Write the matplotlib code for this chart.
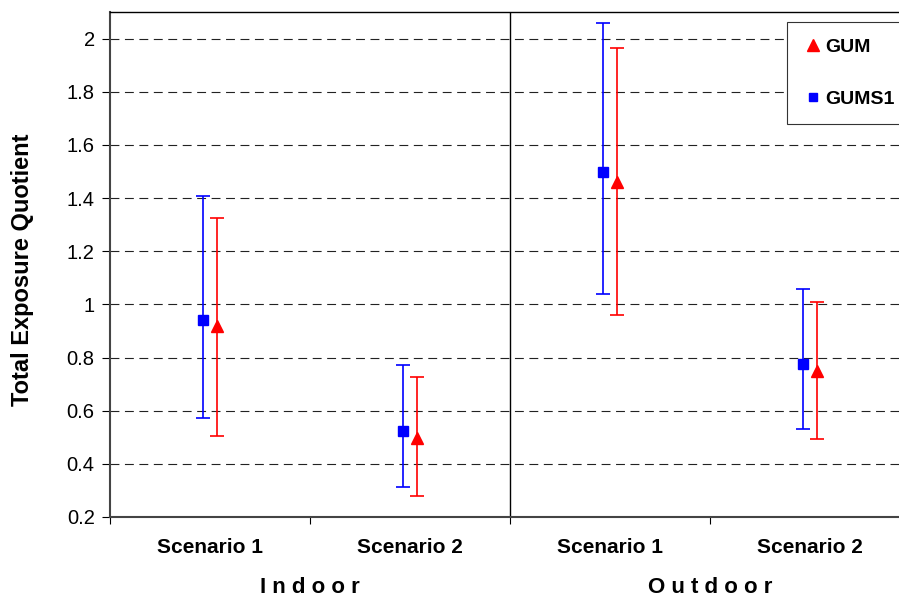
import matplotlib
matplotlib.use("Agg")
from matplotlib import pyplot as plt
from matplotlib.lines import Line2D
import numpy as np

plt.rcParams["font.family"] = ["Liberation Sans", "DejaVu Sans"]

groups = ["Indoor", "Outdoor"]
scenarios = ["Scenario 1", "Scenario 2", "Scenario 1", "Scenario 2"]

# GUMS1 (blue squares)
gums1_mid = [0.943, 0.522, 1.497, 0.774]
gums1_low = [0.574, 0.314, 1.038, 0.531]
gums1_high = [1.409, 0.771, 2.057, 1.057]

# GUM (red triangles)
gum_mid = [0.918, 0.499, 1.459, 0.748]
gum_low = [0.503, 0.279, 0.960, 0.495]
gum_high = [1.325, 0.727, 1.965, 1.009]

yticks = [0.2, 0.4, 0.6, 0.8, 1, 1.2, 1.4, 1.6, 1.8, 2]

fig = plt.figure(figsize=(8.99, 6.01), dpi=100)
W, H = 899, 601
ax = fig.add_axes([110 / W, (H - 517) / H, (W - 110) / W, (517 - 12) / H])

x = np.arange(len(scenarios)) + 0.5
off = 0.035

for v in yticks[1:]:
    ax.axhline(v, color="#222222", linestyle=(0, (8, 5)), linewidth=0.8, zorder=1)
ax.axvline(2, color="black", linewidth=1.0, zorder=1)

m = np.array(gums1_mid)
ax.errorbar(x - off, m, yerr=[m - np.array(gums1_low), np.array(gums1_high) - m],
            fmt="s", color="blue", ecolor="blue", markersize=7, capsize=5,
            elinewidth=1.2, capthick=1.2, zorder=3)
m = np.array(gum_mid)
ax.errorbar(x + off, m, yerr=[m - np.array(gum_low), np.array(gum_high) - m],
            fmt="^", color="red", ecolor="red", markersize=8, capsize=5,
            elinewidth=1.2, capthick=1.2, zorder=3)

ax.set_xlim(0, (W - 110) / 200)
ax.set_ylim(0.2, 2.1)
ax.set_yticks(yticks)
ax.set_yticklabels([f"{v:g}" for v in yticks], fontsize=14.5)
ax.set_xticks([0, 1, 2, 3])
ax.set_xticklabels([])
ax.set_xticks(x, minor=True)
ax.set_xticklabels(scenarios, minor=True, fontsize=15, fontweight="bold")
ax.tick_params(axis="x", which="minor", length=0, pad=15)
ax.tick_params(axis="x", which="major", length=5, direction="out")
ax.tick_params(axis="y", length=6, direction="out", pad=5)
ax.spines["right"].set_visible(False)
for s in ["left", "bottom"]:
    ax.spines[s].set_color("#444444")
    ax.spines[s].set_linewidth(1.5)
ax.spines["top"].set_linewidth(1.0)

ax.set_ylabel("Total Exposure Quotient", fontsize=17, fontweight="bold")
ax.yaxis.set_label_coords(-0.096, 0.49)

handles = [
    Line2D([], [], linestyle="none", marker="^", color="red", markersize=9),
    Line2D([], [], linestyle="none", marker="s", color="blue", markersize=6),
]
leg = ax.legend(handles, ["GUM", "GUMS1"], loc="upper left",
                bbox_to_anchor=((787 - 110) / 789, (517 - 22) / 505),
                prop={"weight": "bold", "size": 14}, labelspacing=1.75,
                handletextpad=0.1, handlelength=1.0, borderpad=0.85,
                borderaxespad=0, fancybox=False, edgecolor="#333333", framealpha=1)
leg.get_frame().set_linewidth(0.8)

for i, g in enumerate(groups):
    ax.text(1 + 2 * i, -0.14, " ".join(g), transform=ax.get_xaxis_transform(),
            ha="center", va="center", fontsize=16, fontweight="bold")

fig.savefig("out.png", dpi=100)
